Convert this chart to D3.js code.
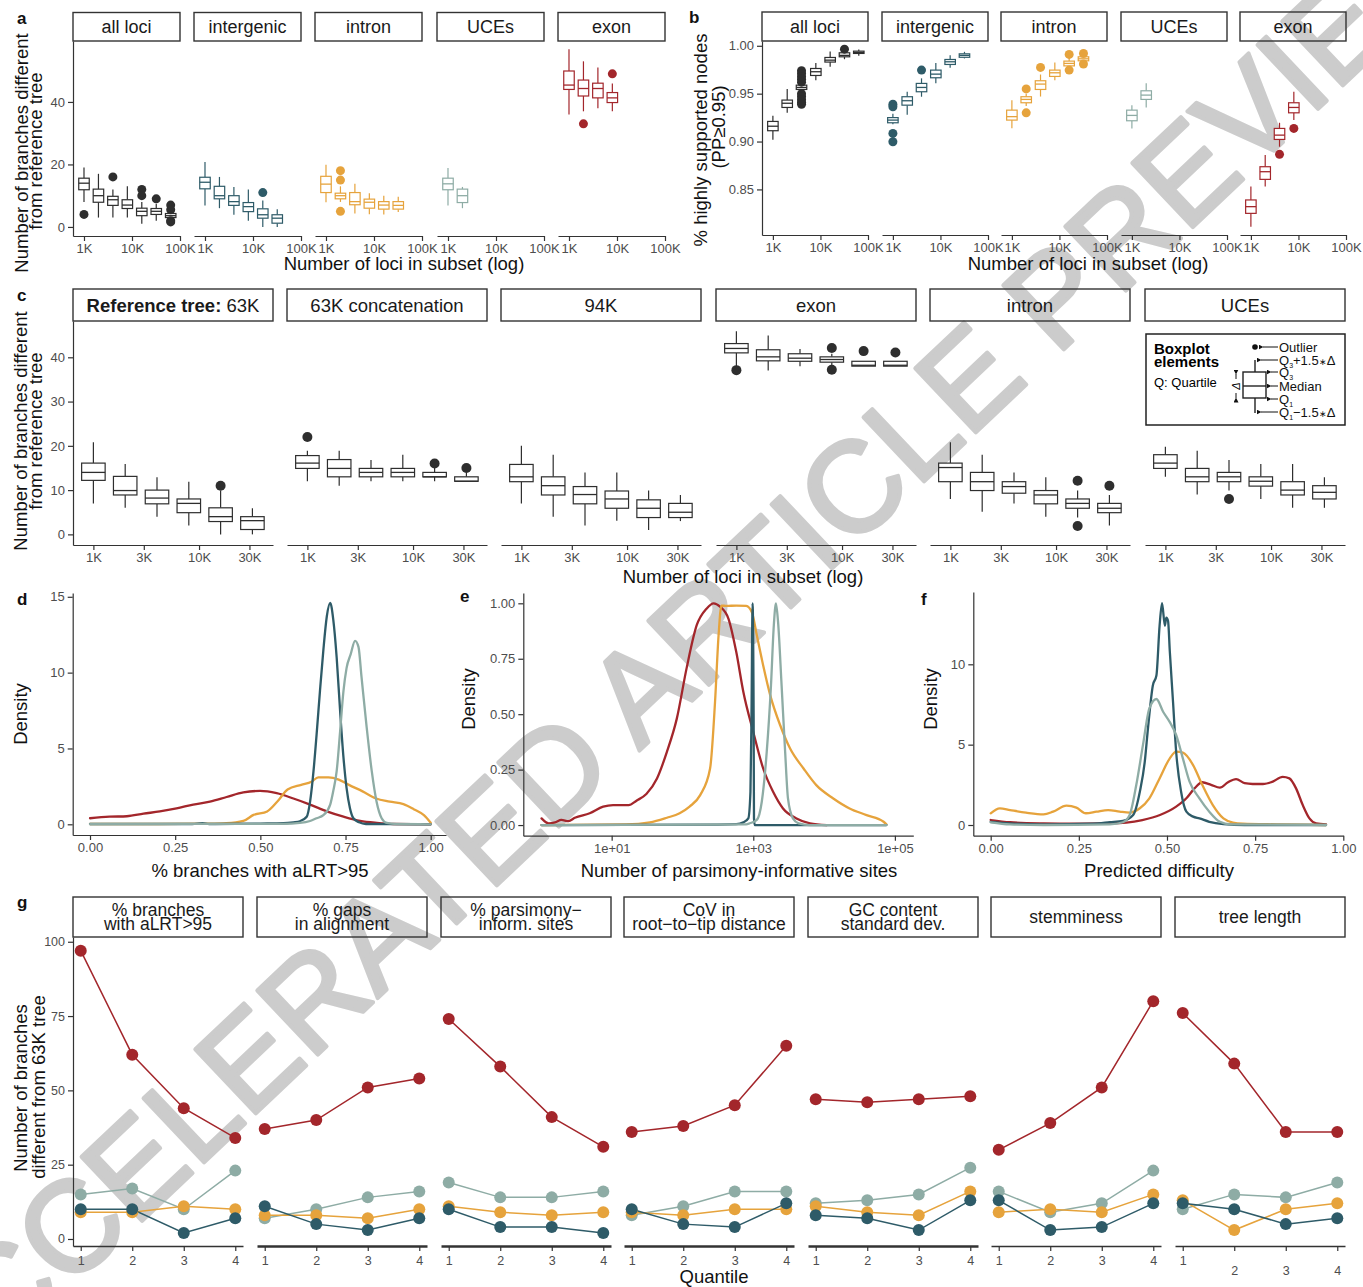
<!DOCTYPE html>
<html>
<head>
<meta charset="utf-8">
<script src="https://cdn.jsdelivr.net/npm/d3@7"></script>
<style>
  body { margin: 0; background: #fff; }
  svg { display: block; }
</style>
</head>
<body>
<script>
// ------------------------------------------------------------------
// Data
// ------------------------------------------------------------------
const lociGroups = ["all loci", "intergenic", "intron", "UCEs", "exon"];
const subsetSizes = [1000, 2000, 4000, 8000, 16000, 32000, 64000];

// Panel a: branches different from reference tree
// each entry: [lower whisker, Q1, median, Q3, upper whisker]
const aAll = [[8,11.9,14,15.6,19],[3,7.9,10,12.1,17],[3,6.9,8.7,9.8,12],[3,5.9,7,8.7,13],[1,3.6,5,6,8],[2,4,5,5.9,7.4],[2.5,3,3.6,4.3,5]];
const aAllOut = [[4],[],[16],[],[12,10],[9],[7,5.5,2,1.6]];
const aInter = [[6.9,12.2,14.3,15.9,20.8],[6,9,10,13,16],[3.9,6.9,8.1,10,12.8],[2,4.9,6.5,7.8,12],[0,2.8,3.9,5.8,8.5],[0,1.2,2.8,3.9,5.7]];
const aInterOut = [[],[],[],[],[11],[]];
const aIntron = [[7.9,11,13.7,16.2,19.9],[8,9,10,10.8,13],[4.3,7.1,8.1,11,13.8],[4.1,6,7.9,8.9,10.8],[4,5.7,7,8.1,10],[4.8,5.7,6.9,8.1,9.7]];
const aIntronOut = [[],[18,15,5],[],[],[],[]];
const aUCE = [[6.9,11.9,13.8,15.6,18.9],[6,7.8,10,12.1,12.8]];
const aUCEOut = [[],[]];
const aExon = [[36,44,45.4,49.9,56.9],[37,41.9,44.3,47,53],[38,41.3,44.3,46,51],[37,39.8,41.3,43,45.9]];
const aExonOut = [[],[33],[],[49]];

// Panel b: share of highly supported nodes (PP >= 0.95)
const bAll = [[0.902,0.9113,0.916,0.921,0.927],[0.930,0.9356,0.940,0.9433,0.955],[0.952,0.9544,0.9565,0.9589,0.961],[0.964,0.969,0.9729,0.9763,0.982],[0.978,0.983,0.985,0.9878,0.994],[0.986,0.9885,0.990,0.9927,0.995],[0.9896,0.992,0.993,0.9944,0.996]];
const bAllOut = [[],[],[0.974,0.971,0.968,0.965,0.962,0.950,0.947,0.944,0.941,0.939],[],[],[0.9965],[]];
const bInter = [[0.918,0.9196,0.9224,0.925,0.929],[0.928,0.938,0.9426,0.9468,0.952],[0.9468,0.952,0.9565,0.9607,0.966],[0.961,0.9666,0.9704,0.9746,0.982],[0.977,0.9805,0.9833,0.9857,0.990],[0.9868,0.988,0.990,0.9916,0.9937]];
const bInterOut = [[0.939,0.9363,0.9085,0.8998],[],[0.9746],[],[],[]];
const bIntron = [[0.914,0.9224,0.926,0.9328,0.943],[0.937,0.9405,0.944,0.9468,0.950],[0.947,0.9544,0.960,0.9635,0.970],[0.964,0.968,0.9718,0.9746,0.9826],[0.977,0.979,0.9816,0.984,0.988],[0.982,0.9843,0.9864,0.9885,0.990]];
const bIntronOut = [[],[0.955,0.930],[0.9774],[],[0.991,0.9746],[0.992,0.981]];
const bUCE = [[0.9137,0.9217,0.9273,0.9328,0.938],[0.9356,0.944,0.9485,0.953,0.961]];
const bUCEOut = [[],[]];
const bExon = [[0.811,0.825,0.832,0.839,0.853],[0.853,0.8605,0.8685,0.8737,0.886],[0.8946,0.9022,0.9067,0.9137,0.9196],[0.9224,0.930,0.9356,0.9405,0.952]];
const bExonOut = [[],[],[0.8866],[0.9137]];

// Panel c: branches different from the 63K reference tree, per comparison set
const cFacets = ["Reference tree:", "63K concatenation", "94K", "exon", "intron", "UCEs"];
const cSizes = [1000, 2000, 4000, 8000, 16000, 32000];
const cRef = [[7,12.2,14,16.1,20.8],[6,8.9,9.9,13.1,15.9],[4,6.9,8.2,10,12.9],[2,4.9,7,8,11.9],[0,2.9,4,6,9.9],[0,1.1,3.1,4,5.9]];
const cRefOut = [[],[],[],[],[11],[]];
const cConcat = [[12,14.9,16.1,17.8,18.9],[11,13,14.9,16.9,18.9],[12,13,14,14.9,16.8],[12,13,14,14.9,18],[12,13,13,14,15],[12,12,12,13,14]];
const cConcatOut = [[22],[],[],[],[16],[15]];
const c94 = [[7,11.9,13,15.8,20],[4,8.9,11,13,18],[2,6.9,9,10.8,14],[3.1,5.9,8,9.8,14],[1,3.8,5.9,7.8,9.9],[3,3.8,5,7,8.9]];
const c94Out = [[],[],[],[],[],[]];
const cExon = [[38,41,42,43.1,45.9],[37,39.2,40.1,41.7,44.9],[38,39.1,39.8,40.8,41.9],[38.1,38.9,39.5,40.1,40.8],[38,38,38.2,39.1,39.1],[38,38,38.2,39.1,39.1]];
const cExonOut = [[37.1],[],[],[42.1,37.2],[41.4],[41.1]];
const cIntron = [[8,11.9,15.1,16.1,20.8],[5.1,9.9,11.9,14,18],[7,9.3,10.8,11.9,14],[4,6.9,8.9,9.9,12.9],[3.8,5.9,7,8,9.9],[2,4.9,5.9,7,8.9]];
const cIntronOut = [[],[],[],[],[12.1,1.9],[11]];
const cUCE = [[13,14.9,16.1,18,19.8],[9,11.9,13,14.9,18.9],[9.9,11.9,13,14,16.8],[8,10.9,12,13,15.9],[6,8.9,10,11.9,15.9],[6,8,9.5,11,12.9]];
const cUCEOut = [[],[],[8],[],[],[]];

// Panel d: density of % branches with aLRT > 95  [value, density]
const dExon = [[0,0.4],[0.057,0.5],[0.108,0.53],[0.157,0.7],[0.205,0.85],[0.254,1.05],[0.303,1.3],[0.352,1.5],[0.401,1.8],[0.45,2.1],[0.499,2.2],[0.548,2.05],[0.597,1.7],[0.646,1.3],[0.695,0.85],[0.744,0.5],[0.793,0.22],[0.842,0.09],[0.89,0.02],[1.0,0]];
const dIntron = [[0,0.02],[0.2,0.02],[0.35,0.04],[0.4,0.07],[0.45,0.22],[0.48,0.62],[0.52,0.85],[0.55,1.5],[0.58,2.3],[0.62,2.6],[0.65,2.8],[0.67,3.1],[0.70,3.1],[0.73,2.95],[0.76,2.6],[0.80,2.17],[0.84,1.7],[0.88,1.5],[0.92,1.33],[0.95,1.0],[0.98,0.6],[1.0,0.1]];
const dInter = [[0,0.02],[0.3,0.02],[0.33,0.08],[0.35,0.02],[0.5,0.05],[0.568,0.07],[0.597,0.13],[0.616,0.2],[0.636,0.5],[0.646,1.5],[0.656,3.5],[0.665,5.9],[0.675,8.8],[0.685,11.5],[0.695,13.7],[0.705,14.6],[0.714,13.5],[0.724,11],[0.734,7.5],[0.744,4.4],[0.753,2.4],[0.763,1.06],[0.773,0.4],[0.79,0.13],[0.81,0.02],[1.0,0]];
const dUCE = [[0,0.01],[0.5,0.03],[0.568,0.03],[0.616,0.09],[0.646,0.22],[0.665,0.4],[0.685,0.6],[0.705,1.3],[0.714,2.2],[0.724,3.5],[0.734,6.1],[0.744,8.8],[0.753,10.3],[0.765,11.2],[0.778,12.1],[0.788,11.7],[0.797,9.7],[0.812,6.4],[0.827,3.5],[0.841,1.5],[0.856,0.4],[0.871,0.09],[0.9,0.02],[1.0,0]];

// Panel e: scaled density of parsimony-informative sites  [log10(sites), density]
const eExon = [[0.01,0.03],[0.11,0.008],[0.2,0.012],[0.29,0.023],[0.39,0.018],[0.48,0.033],[0.69,0.053],[0.88,0.083],[1.02,0.09],[1.24,0.09],[1.35,0.11],[1.49,0.14],[1.64,0.21],[1.78,0.33],[1.92,0.48],[2.06,0.71],[2.2,0.9],[2.34,0.976],[2.44,1.0],[2.53,0.985],[2.65,0.93],[2.76,0.78],[2.86,0.6],[3.0,0.42],[3.14,0.255],[3.28,0.15],[3.42,0.075],[3.61,0.03],[3.8,0.008],[4.04,0]];
const eIntron = [[0.01,0],[1.2,0.003],[1.54,0.012],[1.78,0.033],[1.96,0.053],[2.1,0.083],[2.25,0.135],[2.39,0.255],[2.46,0.556],[2.51,0.856],[2.55,0.99],[2.62,0.988],[2.76,0.99],[2.9,0.988],[2.98,0.96],[3.05,0.856],[3.14,0.72],[3.24,0.585],[3.38,0.45],[3.52,0.345],[3.71,0.255],[3.89,0.18],[4.13,0.12],[4.36,0.075],[4.6,0.045],[4.84,0.015],[4.88,0.003]];
const eInter = [[0.01,0],[2.5,0.002],[2.76,0.004],[2.86,0.012],[2.93,0.03],[2.96,0.15],[2.975,0.5],[2.99,1.0],[3.005,0.5],[3.01,0.03],[3.02,0],[4.88,0]];
const eUCE = [[0.01,0],[2.9,0.003],[2.95,0.008],[3.05,0.023],[3.12,0.105],[3.19,0.33],[3.25,0.63],[3.29,0.9],[3.32,1.0],[3.35,0.916],[3.4,0.63],[3.45,0.33],[3.49,0.12],[3.56,0.03],[3.64,0.008],[3.8,0],[4.88,0]];

// Panel f: density of predicted difficulty  [difficulty, density]
const fExon = [[0,0.31],[0.055,0.17],[0.15,0.1],[0.24,0.08],[0.34,0.1],[0.385,0.15],[0.43,0.31],[0.48,0.62],[0.526,1.14],[0.555,1.66],[0.578,2.28],[0.6,2.66],[0.625,2.5],[0.65,2.32],[0.673,2.66],[0.696,2.86],[0.72,2.6],[0.743,2.55],[0.772,2.55],[0.8,2.7],[0.828,3.0],[0.847,2.9],[0.866,2.28],[0.885,1.24],[0.904,0.41],[0.923,0.1],[0.951,0.04]];
const fIntron = [[0,0.73],[0.026,1.04],[0.055,0.93],[0.1,0.77],[0.15,0.66],[0.177,0.83],[0.215,1.2],[0.243,1.08],[0.27,0.73],[0.3,0.83],[0.333,0.93],[0.366,0.83],[0.394,0.77],[0.423,1.04],[0.45,1.66],[0.479,2.9],[0.508,4.15],[0.526,4.56],[0.545,4.5],[0.574,3.73],[0.6,2.5],[0.63,1.24],[0.66,0.41],[0.687,0.15],[0.715,0.08],[0.81,0.04],[0.951,0]];
const fInter = [[0,0.2],[0.055,0.1],[0.15,0.04],[0.29,0.08],[0.338,0.17],[0.375,0.25],[0.404,0.62],[0.423,2.07],[0.437,3.94],[0.446,6.0],[0.46,8.7],[0.47,9.3],[0.479,12.4],[0.486,13.8],[0.494,12.4],[0.498,12.9],[0.503,12.7],[0.508,10.8],[0.517,7.7],[0.526,4.56],[0.54,2.07],[0.555,0.83],[0.574,0.52],[0.592,0.41],[0.62,0.2],[0.66,0.06],[0.72,0],[0.951,0]];
const fUCE = [[0,0.17],[0.055,0.04],[0.15,0],[0.338,0.04],[0.375,0.17],[0.394,0.62],[0.413,2.5],[0.432,5.0],[0.45,7.26],[0.47,7.84],[0.489,7.05],[0.508,6.4],[0.526,5.6],[0.545,4.15],[0.564,2.7],[0.592,1.66],[0.62,0.83],[0.65,0.2],[0.68,0.04],[0.951,0]];

// Panel g: branches different from 63K tree per quantile of each locus property
const gMetrics = [["% branches","with aLRT>95"],["% gaps","in alignment"],["% parsimony\u2212","inform. sites"],["CoV in","root\u2212to\u2212tip distance"],["GC content","standard dev."],["stemminess"],["tree length"]];
const quantiles = [1, 2, 3, 4];
const gExon   = [[97,62,44,34],[37,40,51,54],[74,58,41,31],[36,38,45,65],[47,46,47,48],[30,39,51,80],[76,59,36,36]];
const gUCE    = [[15,17,10,23],[7,10,14,16],[19,14,14,16],[8,11,16,16],[12,13,15,24],[16,9,12,23],[10,15,14,19]];
const gIntron = [[9,9,11,10],[8,8,7,10],[11,9,8,9],[9,8,10,10],[11,9,8,16],[9,10,9,15],[13,3,10,12]];
const gInter  = [[10,10,2,7],[11,5,3,7],[10,4,4,2],[10,5,4,12],[8,7,3,13],[13,3,4,12],[12,10,5,7]];

// ------------------------------------------------------------------
// Styles
// ------------------------------------------------------------------
const FONT = "'Liberation Sans', Arial, Helvetica, sans-serif";
const AX = "#333333", TICKTXT = "#4d4d4d";
const colAll = "#2e2e2e", colInter = "#2e5b68", colIntron = "#e6a33c", colUCE = "#8eaca5", colExon = "#a3262b";
const groupColors = [colAll, colInter, colIntron, colUCE, colExon];

const W = 1363, H = 1287;
const svg = d3.select("body").append("svg")
  .attr("width", W).attr("height", H)
  .attr("font-family", FONT);
svg.append("rect").attr("width", W).attr("height", H).attr("fill", "#fff");

// preview watermark sits behind the figure
svg.append("text")
  .attr("transform", "translate(681,650) rotate(-43.4)")
  .attr("text-anchor", "middle").attr("dominant-baseline", "central")
  .attr("font-size", 128).attr("fill", "#cccccc")
  .attr("stroke", "#cccccc").attr("stroke-width", 4).attr("stroke-linejoin", "round")
  .text("ACCELERATED ARTICLE PREVIEW");

const fig = svg.append("g");

// ------------------------------------------------------------------
// Helpers
// ------------------------------------------------------------------
function styleAxis(sel, fs) {
  sel.attr("font-family", FONT);
  sel.select(".domain").attr("stroke", AX).attr("stroke-width", 1.2);
  sel.selectAll(".tick line").attr("stroke", AX).attr("stroke-width", 1.2);
  sel.selectAll(".tick text").attr("fill", TICKTXT).attr("font-size", fs);
}

function strip(x, y, w, h, lines, fs, lineGap) {
  fig.append("rect").attr("x", x).attr("y", y).attr("width", w).attr("height", h)
    .attr("fill", "none").attr("stroke", AX).attr("stroke-width", 1.4);
  const cy = y + h / 2;
  lines.forEach((t, i) => {
    fig.append("text")
      .attr("x", x + w / 2)
      .attr("y", cy + (i - (lines.length - 1) / 2) * lineGap)
      .attr("text-anchor", "middle").attr("dominant-baseline", "central")
      .attr("font-size", fs).attr("fill", "#1a1a1a").text(t);
  });
}

function label(txt, x, y) {
  fig.append("text").attr("x", x).attr("y", y).attr("font-size", 17)
    .attr("font-weight", "bold").attr("fill", "#111").text(txt);
}

function xTitle(txt, x, y) {
  fig.append("text").attr("x", x).attr("y", y).attr("text-anchor", "middle")
    .attr("font-size", 18.5).attr("fill", "#111").text(txt);
}

function yTitle(lines, xs, cys) {
  lines.forEach((t, i) => {
    fig.append("text")
      .attr("transform", `translate(${xs[i]},${cys[i]}) rotate(-90)`)
      .attr("text-anchor", "middle").attr("dominant-baseline", "central")
      .attr("font-size", 18.5).attr("fill", "#111").text(t);
  });
}

function drawBoxes(g, x, y, sizes, stats, outs, color, bw, r) {
  stats.forEach((s, i) => {
    const cx = x(sizes[i]);
    g.append("line").attr("x1", cx).attr("x2", cx).attr("y1", y(s[4])).attr("y2", y(s[3]))
      .attr("stroke", color).attr("stroke-width", 1.2);
    g.append("line").attr("x1", cx).attr("x2", cx).attr("y1", y(s[1])).attr("y2", y(s[0]))
      .attr("stroke", color).attr("stroke-width", 1.2);
    g.append("rect").attr("x", cx - bw / 2).attr("y", y(s[3]))
      .attr("width", bw).attr("height", Math.max(1, y(s[1]) - y(s[3])))
      .attr("fill", "#fff").attr("stroke", color).attr("stroke-width", 1.2);
    g.append("line").attr("x1", cx - bw / 2).attr("x2", cx + bw / 2)
      .attr("y1", y(s[2])).attr("y2", y(s[2]))
      .attr("stroke", color).attr("stroke-width", 1.3);
    (outs[i] || []).forEach(v => {
      g.append("circle").attr("cx", cx).attr("cy", y(v)).attr("r", r).attr("fill", color);
    });
  });
}

const fmtK = d => (d / 1000) + "K";

// ------------------------------------------------------------------
// Panels a and b: box plots by locus type
// ------------------------------------------------------------------
function lociPanel(opt) {
  const y = d3.scaleLinear().domain(opt.yDomain).range([opt.yBottom, opt.yTop]);
  opt.facetX.forEach((x0, k) => {
    strip(x0, opt.stripY, opt.width, opt.yTop - opt.stripY, [lociGroups[k]], 18, 0);
    const x = d3.scaleLog().domain([Math.pow(10, 2.771), 1e5]).range([x0, x0 + opt.width]);
    const ax = fig.append("g").attr("transform", `translate(0,${opt.yBottom})`)
      .call(d3.axisBottom(x).tickValues([1e3, 1e4, 1e5]).tickFormat(fmtK)
        .tickSize(5).tickSizeOuter(0).tickPadding(3));
    styleAxis(ax, 13);
    const g = fig.append("g");
    drawBoxes(g, x, y, subsetSizes, opt.stats[k], opt.outs[k], groupColors[k], 10.5, 4.5);
  });
  const ay = fig.append("g").attr("transform", `translate(${opt.facetX[0]},0)`)
    .call(d3.axisLeft(y).tickValues(opt.yTicks).tickFormat(opt.yFmt)
      .tickSize(5).tickSizeOuter(0).tickPadding(3));
  styleAxis(ay, 13);
}

lociPanel({
  facetX: [73, 194, 315, 437, 558], width: 107,
  stripY: 12.5, yTop: 41, yBottom: 236, yDomain: [-2.9, 59.5],
  yTicks: [0, 20, 40], yFmt: d3.format("d"),
  stats: [aAll, aInter, aIntron, aUCE, aExon],
  outs: [aAllOut, aInterOut, aIntronOut, aUCEOut, aExonOut]
});
lociPanel({
  facetX: [762, 882, 1001, 1121, 1240], width: 106,
  stripY: 12, yTop: 41, yBottom: 235, yDomain: [0.8024, 1.005],
  yTicks: [0.85, 0.90, 0.95, 1.00], yFmt: d3.format(".2f"),
  stats: [bAll, bInter, bIntron, bUCE, bExon],
  outs: [bAllOut, bInterOut, bIntronOut, bUCEOut, bExonOut]
});

label("a", 17, 24);
label("b", 689, 23);
xTitle("Number of loci in subset (log)", 404, 270);
xTitle("Number of loci in subset (log)", 1088, 270);
yTitle(["Number of branches different", "from reference tree"], [21, 35], [153, 151]);
yTitle(["% highly supported nodes", "(PP\u22650.95)"], [700, 718], [140, 127]);

// ------------------------------------------------------------------
// Panel c: comparisons against alternative reference trees
// ------------------------------------------------------------------
(function () {
  const facetX = [73, 287, 501, 716, 930, 1145], width = 200;
  const yTop = 321, yBottom = 545, stripY = 289;
  const y = d3.scaleLinear().domain([-2.4, 48.2]).range([yBottom, yTop]);
  const stats = [cRef, cConcat, c94, cExon, cIntron, cUCE];
  const outs = [cRefOut, cConcatOut, c94Out, cExonOut, cIntronOut, cUCEOut];
  facetX.forEach((x0, k) => {
    if (k === 0) {
      fig.append("rect").attr("x", x0).attr("y", stripY).attr("width", width).attr("height", yTop - stripY)
        .attr("fill", "none").attr("stroke", AX).attr("stroke-width", 1.4);
      const t = fig.append("text").attr("x", x0 + width / 2).attr("y", (stripY + yTop) / 2)
        .attr("text-anchor", "middle").attr("dominant-baseline", "central")
        .attr("font-size", 18.5).attr("fill", "#1a1a1a");
      t.append("tspan").attr("font-weight", "bold").text(cFacets[0]);
      t.append("tspan").text(" 63K");
    } else {
      strip(x0, stripY, width, yTop - stripY, [cFacets[k]], 18.5, 0);
    }
    const x = d3.scaleLog().domain([Math.pow(10, 2.807), Math.pow(10, 4.70)]).range([x0, x0 + width]);
    const ax = fig.append("g").attr("transform", `translate(0,${yBottom})`)
      .call(d3.axisBottom(x).tickValues([1e3, 3e3, 1e4, 3e4]).tickFormat(fmtK)
        .tickSize(5).tickSizeOuter(0).tickPadding(3));
    styleAxis(ax, 13);
    drawBoxes(fig.append("g"), x, y, cSizes, stats[k], outs[k], colAll, 23.5, 5);
  });
  const ay = fig.append("g").attr("transform", `translate(${facetX[0]},0)`)
    .call(d3.axisLeft(y).tickValues([0, 10, 20, 30, 40]).tickSize(5).tickSizeOuter(0).tickPadding(3));
  styleAxis(ay, 13);

  label("c", 17, 301);
  xTitle("Number of loci in subset (log)", 743, 583);
  yTitle(["Number of branches different", "from reference tree"], [20, 35], [431, 431]);

  // box plot key
  const lg = fig.append("g");
  const defs = svg.append("defs");
  defs.append("marker").attr("id", "arr").attr("viewBox", "0 0 10 10")
    .attr("refX", 1).attr("refY", 5).attr("markerWidth", 5).attr("markerHeight", 5)
    .attr("orient", "auto-start-reverse")
    .append("path").attr("d", "M10,0 L0,5 L10,10 z").attr("fill", "#111");
  lg.append("rect").attr("x", 1146).attr("y", 334).attr("width", 199).attr("height", 91)
    .attr("fill", "#fff").attr("stroke", "#222").attr("stroke-width", 1.5);
  lg.append("text").attr("x", 1154).attr("y", 354).attr("font-size", 15).attr("font-weight", "bold").text("Boxplot");
  lg.append("text").attr("x", 1154).attr("y", 367).attr("font-size", 15).attr("font-weight", "bold").text("elements");
  lg.append("text").attr("x", 1154).attr("y", 387).attr("font-size", 13).text("Q: Quartile");
  const kx = 1255;
  lg.append("line").attr("x1", kx).attr("x2", kx).attr("y1", 360).attr("y2", 413).attr("stroke", "#222").attr("stroke-width", 1.4);
  lg.append("rect").attr("x", 1243).attr("y", 372).attr("width", 23).attr("height", 26)
    .attr("fill", "#fff").attr("stroke", "#222").attr("stroke-width", 1.4);
  lg.append("line").attr("x1", 1243).attr("x2", 1266).attr("y1", 386).attr("y2", 386).attr("stroke", "#222").attr("stroke-width", 1.4);
  lg.append("circle").attr("cx", kx).attr("cy", 347).attr("r", 2.8).attr("fill", "#111");
  const keyRows = [
    { y: 347, x2: 1260, parts: [["Outlier"]] },
    { y: 360, x2: 1258, parts: [["Q"], ["3", "sub"], ["+1.5"], ["\u2217", "star"], ["\u0394"]] },
    { y: 372, x2: 1268, parts: [["Q"], ["3", "sub"]] },
    { y: 386, x2: 1268, parts: [["Median"]] },
    { y: 399, x2: 1268, parts: [["Q"], ["1", "sub"]] },
    { y: 412, x2: 1258, parts: [["Q"], ["1", "sub"], ["\u22121.5"], ["\u2217", "star"], ["\u0394"]] }
  ];
  keyRows.forEach(r => {
    lg.append("line").attr("x1", 1278).attr("x2", r.x2 + 3).attr("y1", r.y).attr("y2", r.y)
      .attr("stroke", "#111").attr("stroke-width", 1).attr("marker-end", "url(#arr)");
    const t = lg.append("text").attr("x", 1279).attr("y", r.y + 4.5).attr("font-size", 13).attr("fill", "#111");
    let prevSub = false;
    r.parts.forEach(p => {
      const s = t.append("tspan").text(p[0]);
      if (p[1] === "sub") { s.attr("font-size", 7).attr("dy", 3); prevSub = true; }
      else {
        if (p[1] === "star") s.attr("font-size", 9);
        if (prevSub) { s.attr("dy", -3); prevSub = false; }
      }
    });
  });
  // spread (delta) marker beside the box
  lg.append("line").attr("x1", 1236).attr("x2", 1236).attr("y1", 379).attr("y2", 374)
    .attr("stroke", "#111").attr("stroke-width", 1).attr("marker-end", "url(#arr)");
  lg.append("line").attr("x1", 1236).attr("x2", 1236).attr("y1", 393).attr("y2", 398)
    .attr("stroke", "#111").attr("stroke-width", 1).attr("marker-end", "url(#arr)");
  lg.append("text").attr("transform", "translate(1236,386) rotate(-90)")
    .attr("text-anchor", "middle").attr("dominant-baseline", "central")
    .attr("font-size", 11).attr("font-style", "italic").text("\u0394");
})();

// ------------------------------------------------------------------
// Panels d, e, f: density curves
// ------------------------------------------------------------------
function densityPanel(opt) {
  const x = opt.x, y = opt.y;
  const ax = fig.append("g").attr("transform", `translate(0,${opt.yBottom})`)
    .call(d3.axisBottom(x).tickValues(opt.xTicks).tickFormat(opt.xFmt)
      .tickSize(5).tickSizeOuter(0).tickPadding(3));
  styleAxis(ax, 13);
  const ay = fig.append("g").attr("transform", `translate(${opt.xLeft},0)`)
    .call(d3.axisLeft(y).tickValues(opt.yTicks).tickFormat(opt.yFmt)
      .tickSize(5).tickSizeOuter(0).tickPadding(3));
  styleAxis(ay, 13);
  const line = d3.line().x(d => x(opt.xv(d[0]))).y(d => y(d[1])).curve(d3.curveMonotoneX);
  opt.series.forEach((s, i) => {
    fig.append("path").datum(s).attr("d", line).attr("fill", "none")
      .attr("stroke", opt.colors[i]).attr("stroke-width", 2.3)
      .attr("stroke-linejoin", "round").attr("stroke-linecap", "round");
  });
}
const densColors = [colExon, colIntron, colInter, colUCE];
densityPanel({
  x: d3.scaleLinear().domain([-0.0508, 1.0449]).range([72.7, 446]),
  y: d3.scaleLinear().domain([-0.705, 15.25]).range([835, 593]),
  xLeft: 72.7, yBottom: 835,
  xTicks: [0, 0.25, 0.5, 0.75, 1], xFmt: d3.format(".2f"),
  yTicks: [0, 5, 10, 15], yFmt: d3.format("d"),
  xv: v => v, series: [dExon, dIntron, dInter, dUCE], colors: densColors
});
densityPanel({
  x: d3.scaleLog().domain([Math.pow(10, -0.248), Math.pow(10, 5.26)]).range([523.3, 913.3]),
  y: d3.scaleLinear().domain([-0.048, 1.0465]).range([835.7, 593]),
  xLeft: 523.3, yBottom: 835.7,
  xTicks: [10, 1000, 100000], xFmt: d => d3.format(".0e")(d).replace("e+", "e+0"),
  yTicks: [0, 0.25, 0.5, 0.75, 1], yFmt: d3.format(".2f"),
  xv: v => Math.pow(10, v), series: [eExon, eIntron, eInter, eUCE], colors: densColors
});
densityPanel({
  x: d3.scaleLinear().domain([-0.0493, 1.0]).range([973.3, 1343.3]),
  y: d3.scaleLinear().domain([-0.666, 14.5]).range([835.7, 592]),
  xLeft: 973.3, yBottom: 835.7,
  xTicks: [0, 0.25, 0.5, 0.75, 1], xFmt: d3.format(".2f"),
  yTicks: [0, 5, 10], yFmt: d3.format("d"),
  xv: v => v, series: [fExon, fIntron, fInter, fUCE], colors: densColors
});
label("d", 17, 605);
label("e", 460, 602);
label("f", 921, 605);
xTitle("% branches with aLRT>95", 260, 877);
xTitle("Number of parsimony-informative sites", 739, 877);
xTitle("Predicted difficulty", 1159, 877);
yTitle(["Density"], [20], [714]);
yTitle(["Density"], [468], [699]);
yTitle(["Density"], [930], [699]);

// ------------------------------------------------------------------
// Panel g: branch differences by quantile of locus properties
// ------------------------------------------------------------------
(function () {
  const facetX = [73, 257, 441, 624, 808, 991, 1175], width = 170;
  const stripY = 897, yTop = 937, yBottom = 1246;
  const axisWidths = [1.3, 2.4, 2.4, 2.4, 2.4, 1.3, 1.3];
  const y = d3.scaleLinear().domain([-2.36, 101.6]).range([yBottom, yTop]);
  const series = [gUCE, gIntron, gInter, gExon];
  const colors = [colUCE, colIntron, colInter, colExon];
  facetX.forEach((x0, k) => {
    strip(x0, stripY, width, yTop - stripY, gMetrics[k], 17.5, 14);
    const x = d3.scaleLinear().domain([0.85, 4.15]).range([x0, x0 + width]);
    const ax = fig.append("g").attr("transform", `translate(0,${yBottom})`)
      .call(d3.axisBottom(x).tickValues(quantiles).tickFormat(d3.format("d"))
        .tickSize(5).tickSizeOuter(0).tickPadding(5));
    styleAxis(ax, 12.5);
    ax.select(".domain").attr("stroke-width", axisWidths[k]);
    if (k === 6) ax.selectAll(".tick text").filter(d => d > 1).attr("y", 20);
    const line = d3.line().x((d, i) => x(quantiles[i])).y(d => y(d));
    series.forEach((s, i) => {
      fig.append("path").datum(s[k]).attr("d", line).attr("fill", "none")
        .attr("stroke", colors[i]).attr("stroke-width", 1.5);
    });
    series.forEach((s, i) => {
      fig.append("g").selectAll("circle").data(s[k]).join("circle")
        .attr("cx", (d, j) => x(quantiles[j])).attr("cy", d => y(d))
        .attr("r", 6).attr("fill", colors[i]);
    });
  });
  const ay = fig.append("g").attr("transform", `translate(${facetX[0]},0)`)
    .call(d3.axisLeft(y).tickValues([0, 25, 50, 75, 100]).tickSize(5).tickSizeOuter(0).tickPadding(3));
  styleAxis(ay, 12.5);
  label("g", 17, 908);
  xTitle("Quantile", 714, 1283);
  yTitle(["Number of branches", "different from 63K tree"], [20, 38], [1088, 1087]);
})();
</script>
</body>
</html>
